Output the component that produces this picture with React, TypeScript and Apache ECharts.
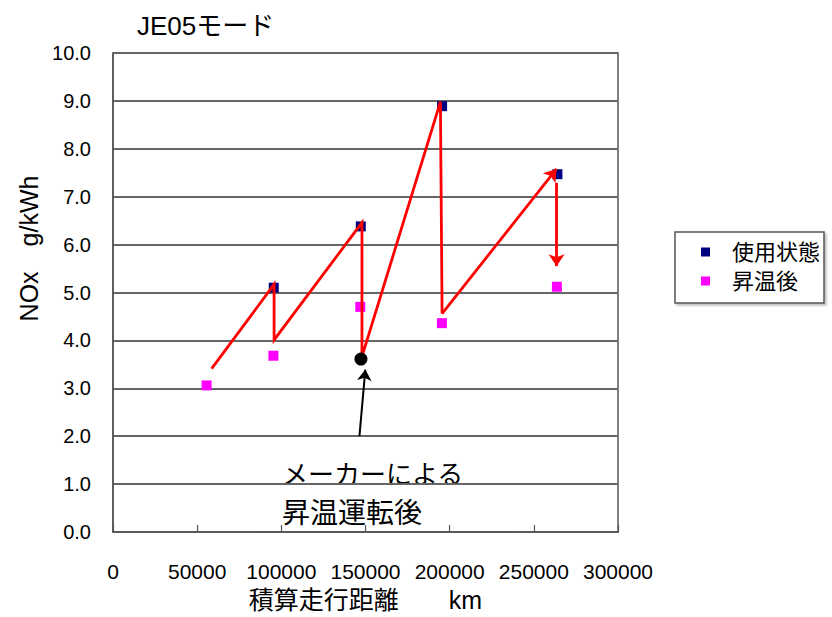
import React, { useEffect, useRef } from "react";
import * as echarts from "echarts";

const FONT = "'Liberation Sans', 'Noto Sans CJK JP', sans-serif";

// 使用状態 (in-use state)
const inUseX = [95500, 147200, 195500, 264000];
const inUseY = [5.1, 6.38, 8.89, 7.47];
// 昇温後 (after warm-up)
const warmX = [55600, 95300, 146900, 195400, 263700];
const warmY = [3.06, 3.68, 4.7, 4.36, 5.12];
// maker warm-up point
const makerX = [147300];
const makerY = [3.61];
// red route (polyline)
const routeX = [58600, 95700, 95700, 147900, 147900, 194500, 195500];
const routeY = [3.41, 5.17, 4.01, 6.46, 3.66, 8.98, 4.56];
// red arrows
const redArrows = [
  [[195500, 4.56], [263500, 7.58]],
  [[263500, 7.29], [263500, 5.55]],
];
// black annotation arrow
const blackArrow = [[146400, 2.0], [149900, 3.39]];

const xTicks = { min: 0, max: 300000, interval: 50000 };
const yTicks = { min: 0, max: 10, interval: 1 };

const zip = (xs: number[], ys: number[]) => xs.map((x, i) => [x, ys[i]]);

export default function App() {
  const ref = useRef<HTMLDivElement>(null);
  useEffect(() => {
    if (!ref.current) return;
    const chart = echarts.init(ref.current, undefined, { renderer: "svg" });
    chart.setOption({
      animation: false,
      backgroundColor: "#ffffff",
      title: {
        text: "JE05モード",
        left: 132,
        top: 8,
        textStyle: { fontFamily: FONT, fontSize: 26, fontWeight: "normal", color: "#000" },
      },
      legend: {
        orient: "vertical",
        left: 675,
        top: 232,
        data: ["使用状態", "昇温後"],
        icon: "rect",
        itemWidth: 9,
        itemHeight: 9,
        itemGap: 7,
        padding: [9, 4, 11, 26],
        borderColor: "#555",
        borderWidth: 1.5,
        shadowColor: "rgba(0,0,0,0.25)",
        shadowBlur: 2,
        shadowOffsetX: 2,
        shadowOffsetY: 2,
        backgroundColor: "#fff",
        textStyle: { fontFamily: FONT, fontSize: 22, color: "#000", padding: [0, 0, 0, 17] },
      },
      grid: {
        left: 113,
        right: 214,
        top: 53,
        bottom: 76,
        show: true,
        borderColor: "#555",
        borderWidth: 1.5,
      },
      xAxis: {
        type: "value",
        ...xTicks,
        axisLine: { show: true, lineStyle: { color: "#555", width: 1.5 } },
        axisTick: { show: true, inside: true, length: 7, lineStyle: { color: "#555", width: 1.2 } },
        splitLine: { show: false },
        axisLabel: {
          formatter: (v: number) => String(v),
          margin: 29,
          fontFamily: FONT,
          fontSize: 21,
          color: "#000",
        },
        name: "積算走行距離　　km",
        nameLocation: "middle",
        nameGap: 55,
        nameTextStyle: { fontFamily: FONT, fontSize: 25, color: "#000" },
      },
      yAxis: {
        type: "value",
        ...yTicks,
        axisLine: { show: true, lineStyle: { color: "#555", width: 1.5 } },
        axisTick: { show: false },
        splitLine: { show: true, lineStyle: { color: "#666", width: 1.8 } },
        axisLabel: {
          formatter: (v: number) => v.toFixed(1),
          margin: 22,
          fontFamily: FONT,
          fontSize: 20,
          color: "#000",
        },
        name: "NOx　g/kWh",
        nameLocation: "middle",
        nameGap: 70,
        nameTextStyle: { fontFamily: FONT, fontSize: 25, color: "#000", padding: [0, 0, 0, 88] },
      },
      series: [
        {
          name: "使用状態",
          type: "scatter",
          symbol: "rect",
          symbolSize: 10,
          itemStyle: { color: "#000080", opacity: 1 },
          data: zip(inUseX, inUseY),
          z: 2,
        },
        {
          name: "昇温後",
          type: "scatter",
          symbol: "rect",
          symbolSize: 10,
          itemStyle: { color: "#ff00ff", opacity: 1 },
          data: zip(warmX, warmY),
          z: 2,
        },
        {
          name: "route",
          type: "line",
          symbol: "none",
          silent: true,
          lineStyle: { color: "#ff0000", width: 2.8, join: "miter" },
          data: zip(routeX, routeY),
          z: 3,
          markLine: {
            silent: true,
            symbol: ["none", "arrow"],
            symbolSize: 12,
            label: { show: false },
            lineStyle: { color: "#ff0000", width: 2.8, type: "solid" },
            data: redArrows.map(([a, b]) => [{ coord: a }, { coord: b }]),
          },
        },
        {
          name: "maker",
          type: "scatter",
          symbol: "circle",
          symbolSize: 13,
          itemStyle: { color: "#000", opacity: 1 },
          data: zip(makerX, makerY),
          z: 4,
          markLine: {
            silent: true,
            symbol: ["none", "arrow"],
            symbolSize: 11,
            label: { show: false },
            lineStyle: { color: "#000", width: 2, type: "solid" },
            data: [[{ coord: blackArrow[0] }, { coord: blackArrow[1] }]],
          },
        },
      ],
      graphic: [
        {
          type: "text",
          left: 282,
          top: 462,
          style: { text: "メーカーによる", font: `26px ${FONT}`, fill: "#000" },
        },
        {
          type: "text",
          left: 282,
          top: 499,
          style: { text: "昇温運転後", font: `28px ${FONT}`, fill: "#000" },
        },
      ],
    });
    return () => chart.dispose();
  }, []);
  return (
    <div
      ref={ref}
      style={{ position: "fixed", left: 0, top: 0, width: 832, height: 617, background: "#fff" }}
    />
  );
}
